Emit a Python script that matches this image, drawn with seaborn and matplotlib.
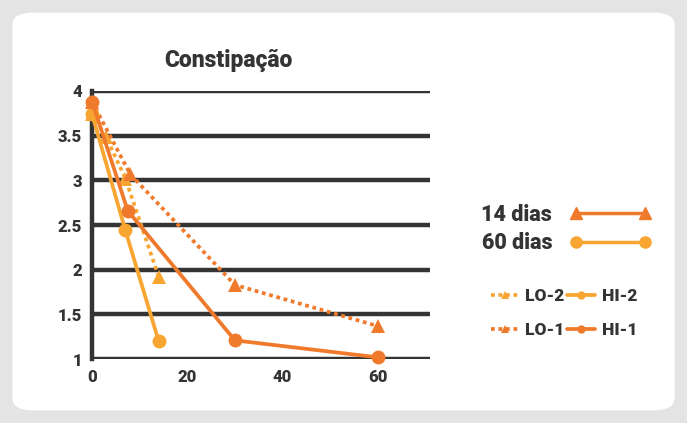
import seaborn as sns
import matplotlib.pyplot as plt
from matplotlib.lines import Line2D
from matplotlib.patches import FancyBboxPatch

# data
hi1_days = [0, 7.5, 30, 60]
hi1_vals = [3.88, 2.66, 1.21, 1.02]
hi2_days = [0, 7, 14]
hi2_vals = [3.74, 2.44, 1.2]
lo1_days = [0, 8, 30, 60]
lo1_vals = [3.88, 3.07, 1.83, 1.37]
lo2_days = [0, 3, 7, 14]
lo2_vals = [3.74, 3.48, 3.02, 1.92]

x_ticks = [0, 20, 40, 60]
y_ticks = [1, 1.5, 2, 2.5, 3, 3.5, 4]
y_labels = ['1', '1.5', '2', '2.5', '3', '3.5', '4']

dark_orange = '#F07A2C'
light_orange = '#F8A532'
ink = '#343434'

sns.set_style('white')
plt.rcParams['font.family'] = ['Roboto', 'DejaVu Sans']
plt.rcParams['font.weight'] = 'bold'

fig = plt.figure(figsize=(6.87, 4.23), dpi=100)
fig.patch.set_facecolor('#e4e4e4')
card = FancyBboxPatch((0.018, 0.03), 0.964, 0.94, boxstyle='round,pad=0,rounding_size=0.03',
                      transform=fig.transFigure, facecolor='white', edgecolor='none', zorder=-5)
fig.patches.append(card)

ax = fig.add_axes([0.134, 0.151, 0.492, 0.634])
ax.set_facecolor('none')

series = [
    ('LO-2', lo2_days, lo2_vals, light_orange, '^', (1, 1)),
    ('LO-1', lo1_days, lo1_vals, dark_orange, '^', (1, 1)),
    ('HI-2', hi2_days, hi2_vals, light_orange, 'o', None),
    ('HI-1', hi1_days, hi1_vals, dark_orange, 'o', None),
]
handles = {}
for name, xs, ys, col, mk, dash in series:
    sns.lineplot(x=xs, y=ys, ax=ax, color=col, marker=mk, markersize=10,
                 markeredgewidth=0, linewidth=2.7, sort=False, estimator=None,
                 zorder=5, clip_on=False)
    line = ax.lines[-1]
    if dash:
        line.set_dashes(dash)
    handles[name] = line

for y in y_ticks:
    ax.axhline(y, color=ink, linewidth=3.2, zorder=2)
for s in ['top', 'right', 'bottom']:
    ax.spines[s].set_visible(False)
ax.spines['left'].set_color(ink)
ax.spines['left'].set_linewidth(3.2)

ax.set_xlim(0, 71)
ax.set_ylim(1, 4)
ax.set_xticks(x_ticks)
ax.set_yticks(y_ticks)
ax.set_yticklabels(y_labels)
ax.tick_params(length=0, labelsize=12, colors=ink, pad=7)
for lbl in ax.get_xticklabels() + ax.get_yticklabels():
    lbl.set_fontweight('black')

fig.text(228 / 687, 1 - 60 / 423, 'Constipação', ha='center', va='center',
         fontsize=16.5, fontweight='black', color=ink)

period_handles = [
    Line2D([], [], color=dark_orange, marker='^', markersize=8, linewidth=2.5),
    Line2D([], [], color=light_orange, marker='o', markersize=8, linewidth=2.5),
]
leg1 = fig.legend(period_handles, ['14 dias', '60 dias'], loc='center left',
                  bbox_to_anchor=(462 / 687, 1 - 229 / 423), frameon=False,
                  markerfirst=False, numpoints=2, handlelength=3.8, handletextpad=0.8,
                  prop={'weight': 'black', 'size': 15.5}, labelspacing=0.3)
for t in leg1.get_texts():
    t.set_color(ink)

leg2 = fig.legend([handles['LO-2'], handles['LO-1'], handles['HI-2'], handles['HI-1']],
                  ['LO-2', 'LO-1', 'HI-2', 'HI-1'], ncol=2, loc='center left',
                  bbox_to_anchor=(475 / 687, 1 - 313 / 423), frameon=False,
                  numpoints=1, handlelength=1.6, handletextpad=0.4, columnspacing=0.15,
                  prop={'weight': 'black', 'size': 12.5}, labelspacing=1.0, markerscale=0.6)
for t in leg2.get_texts():
    t.set_color(ink)

fig.savefig('out.png', dpi=100, facecolor=fig.get_facecolor())
